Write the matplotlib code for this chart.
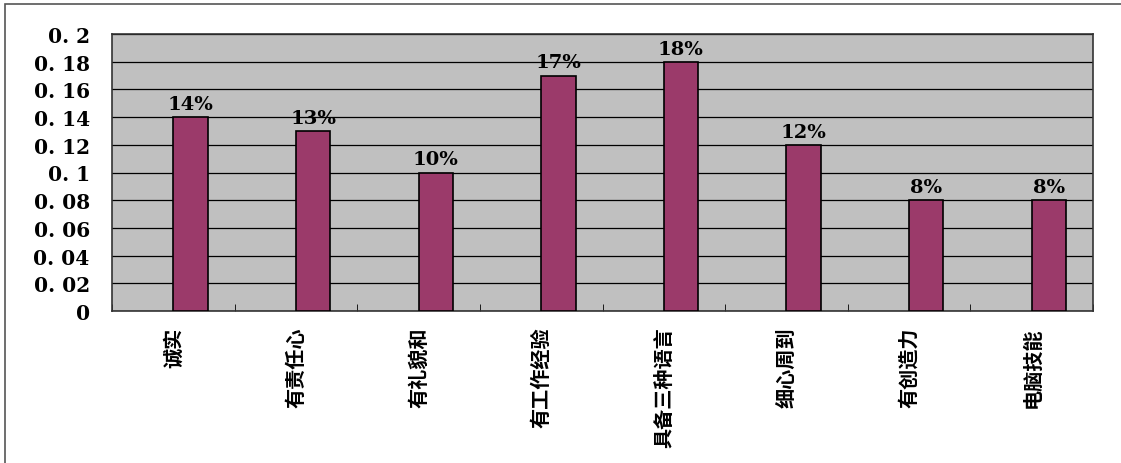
import matplotlib
matplotlib.use("Agg")
import matplotlib.pyplot as plt
from matplotlib.ticker import FixedLocator, MultipleLocator
from matplotlib.patches import Rectangle

categories = ["诚实", "有责任心", "有礼貌和", "有工作经验", "具备三种语言", "细心周到", "有创造力", "电脑技能"]
values = [0.14, 0.13, 0.10, 0.17, 0.18, 0.12, 0.08, 0.08]
bar_labels = ["14%", "13%", "10%", "17%", "18%", "12%", "8%", "8%"]
ytick_values = [0, 0.02, 0.04, 0.06, 0.08, 0.1, 0.12, 0.14, 0.16, 0.18, 0.2]
ytick_labels = ["0", "0. 02", "0. 04", "0. 06", "0. 08", "0. 1", "0. 12", "0. 14", "0. 16", "0. 18", "0. 2"]

W, H = 1121, 464
fig = plt.figure(figsize=(W / 100, H / 100), dpi=100)
# outer chart frame (right/bottom run off the picture)
fig.patches.append(Rectangle((5 / W, -0.1), 1.2, (H - 5) / H + 0.1,
                             transform=fig.transFigure, fill=False,
                             edgecolor="#555555", linewidth=1.2))

ax = fig.add_axes([112 / W, (H - 312) / H, (1093 - 112) / W, (312 - 35) / H])
ax.set_facecolor("#C0C0C0")

x = list(range(len(categories)))
bw = 0.28
# bars sit just right of the category centre, like the first slot of a two-series group
ax.bar([xi + bw / 2 for xi in x], values, width=bw, color="#9B3A6A",
       edgecolor="black", linewidth=1.2, zorder=3)

for xi, v, lab in zip(x, values, bar_labels):
    ax.text(xi + bw / 2, v + 0.003, lab, ha="center", va="bottom", fontsize=14,
            fontweight="bold", family="DejaVu Serif", zorder=4)

ax.set_xlim(-0.5, len(categories) - 0.5)
ax.set_ylim(0, 0.2)
ax.yaxis.set_major_locator(FixedLocator(ytick_values))
ax.set_yticklabels(ytick_labels, fontsize=14.5, fontweight="bold", family="DejaVu Serif")
ax.yaxis.grid(True, color="black", linewidth=0.9, zorder=0)
ax.set_axisbelow(True)
ax.tick_params(axis="y", length=0, pad=16)

ax.set_xticks(x)
ax.set_xticklabels(categories, rotation=90, va="top", ha="center",
                   fontsize=14.5, fontweight="bold", family=["Noto Sans CJK SC", "DejaVu Sans"])
ax.tick_params(axis="x", length=0, pad=11)
ax.xaxis.set_minor_locator(MultipleLocator(1, offset=0.5))
ax.tick_params(axis="x", which="minor", direction="in", length=5, color="black")

for s in ax.spines.values():
    s.set_color("#333333")
    s.set_linewidth(1.2)

fig.savefig("out.png", dpi=100, facecolor="white")
